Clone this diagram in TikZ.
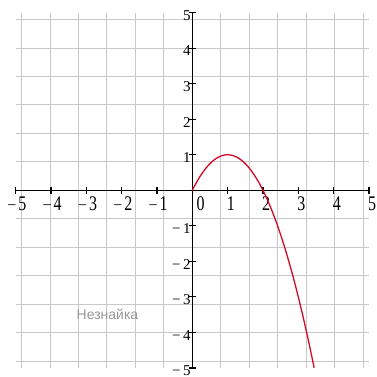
\documentclass[tikz,border=0pt]{standalone}
\usepackage{fontspec}
\setmainfont{Liberation Serif}
\newfontfamily\labelsans{Liberation Sans}
\definecolor{gridgray}{RGB}{200,200,200}
\definecolor{curvered}{RGB}{210,10,40}
\definecolor{textgray}{RGB}{150,150,150}
\tikzset{
  gridline/.style={draw=gridgray, line width=0.9pt},
  axisline/.style={draw=black, line width=1.3pt},
  tickline/.style={draw=black, line width=1.1pt},
  curveline/.style={draw=curvered, line width=1.3pt},
  xlab/.style={anchor=north west, inner sep=0pt, font=\fontsize{16}{16}\selectfont},
  ylab/.style={anchor=east, inner sep=0pt, font=\fontsize{15}{15}\selectfont},
  note/.style={anchor=base, inner sep=0pt, text=textgray, font=\labelsans\fontsize{14}{14}\selectfont}
}
\begin{document}
\begin{tikzpicture}[x=35.33pt, y=35.53pt]
\useasboundingbox (-192.3pt,-185.7pt) rectangle (184.7pt,190.3pt);
% grid
\draw[gridline] (-5,-5) grid (5,5);
% axes
\draw[axisline] (-5,0) -- (5,0);
\draw[axisline] (0,-5) -- (0,5);
% ticks
\foreach \i in {-5,...,-1,1,2,3,4,5} {
  \draw[tickline] ([yshift=-3.5pt]\i,0) -- ([yshift=3.5pt]\i,0);
  \draw[tickline] ([xshift=-3.5pt]0,\i) -- ([xshift=3.5pt]0,\i);
}
% x labels
\foreach \i in {1,...,5} {
  \node[xlab] (xln\i) at ([xshift=2.5pt,yshift=-6.5pt]-\i,0) {\llap{−\hspace{2pt}}\scalebox{1}[1.3]{\i}};
  \node[xlab] (xlp\i) at ([xshift=-1pt,yshift=-6.5pt]\i,0) {\scalebox{1}[1.3]{\i}};
}
\node[xlab] (xl0) at ([xshift=4pt,yshift=-6.5pt]0,0) {\scalebox{1}[1.3]{0}};
% y labels
\foreach \i in {1,...,5} {
  \node[ylab] (ylp\i) at ([xshift=-1.5pt,yshift=-2.8pt]0,\i) {\i};
  \node[ylab] (yln\i) at ([xshift=-1.5pt,yshift=-2.8pt]0,-\i) {−\hspace{2.5pt}\i};
}
% curve y = 2x - x^2
\draw[curveline] plot[domain=0:3.449, samples=90, smooth] (\x, {2*\x-\x*\x});
% label
\node[note] (name) at (-84.8pt,-129pt) {Незнайка};
\end{tikzpicture}
\end{document}
